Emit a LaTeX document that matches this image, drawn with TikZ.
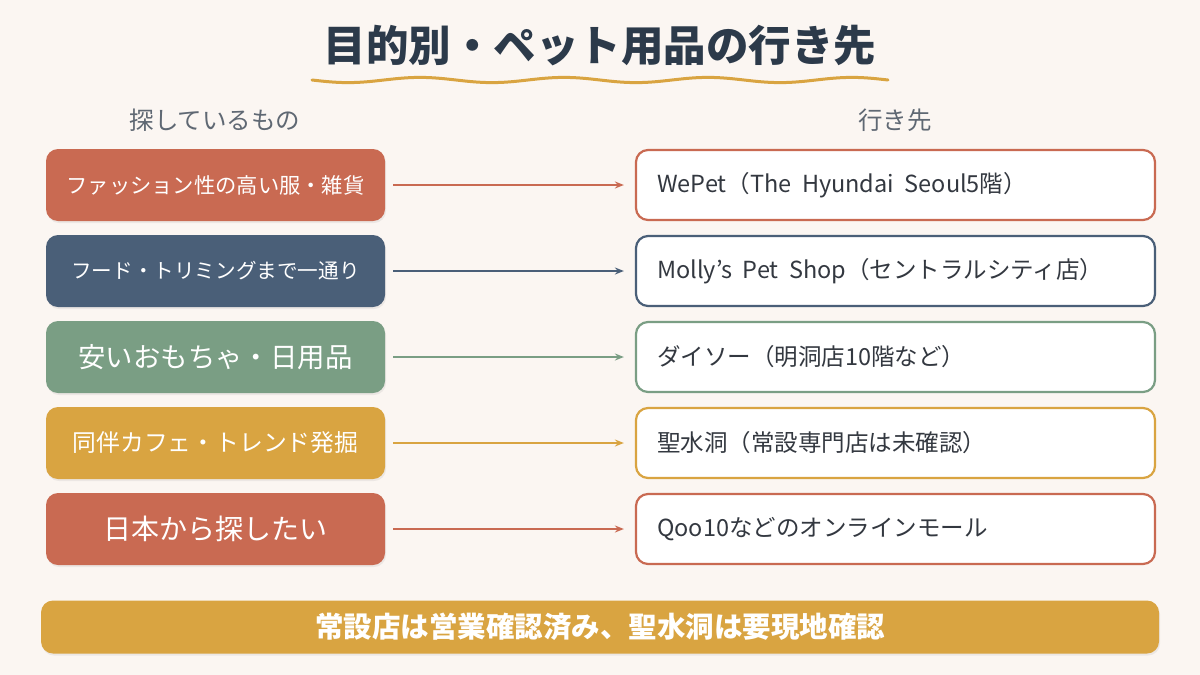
\documentclass[tikz,border=0pt]{standalone}
\usepackage{fontspec}
\setmainfont{Noto Sans CJK JP}
\usetikzlibrary{arrows.meta,shadows}
\definecolor{bg}{HTML}{FBF6F2}
\definecolor{terra}{HTML}{C96A52}
\definecolor{slate}{HTML}{4A5F78}
\definecolor{sage}{HTML}{7A9E84}
\definecolor{gold}{HTML}{D9A441}
\definecolor{ink}{HTML}{2C3A4A}
\definecolor{headgray}{HTML}{5F6873}
\definecolor{txt}{HTML}{333840}
\tikzset{
  srcbox/.style={rounded corners=12pt, minimum width=339pt, minimum height=72pt, inner sep=0pt,
    text=white, align=center, drop shadow={opacity=0.12, shadow xshift=1pt, shadow yshift=-2pt}},
  dstbox/.style={rounded corners=12pt, minimum width=519pt, minimum height=70pt, inner sep=0pt,
    fill=white, line width=2.2pt, text=txt, anchor=center},
  dsttext/.style={anchor=west, text=txt, font=\fontsize{23.5}{28}\selectfont, inner sep=0pt},
  link/.style={line width=1.6pt, -{Stealth[length=9pt,width=7pt]}},
  header/.style={text=headgray, font=\fontsize{24.5}{29}\selectfont}
}
\begin{document}
\begin{tikzpicture}[x=1pt,y=-1pt]
\fill[bg] (0,0) rectangle (1200,675);
\useasboundingbox (0,0) rectangle (1200,675);
% title
\node[text=ink, font=\fontsize{42.5}{48}\selectfont\bfseries] (title) at (600,46) {目的別・ペット用品の行き先};
\draw[gold, line width=3pt, line cap=round] plot[domain=312:888, samples=160, smooth] (\x,{80+2.6*sin((\x-312)*2.5)});
% headers
\node[header] (hl) at (215,120) {探しているもの};
\node[header] (hr) at (895,120) {行き先};
% left boxes
\node[srcbox, fill=terra, font=\fontsize{21.3}{25}\selectfont] (s1) at (215.5,185) {ファッション性の高い服・雑貨};
\node[srcbox, fill=slate, font=\fontsize{20.6}{25}\selectfont] (s2) at (215.5,271) {フード・トリミングまで一通り};
\node[srcbox, fill=sage, font=\fontsize{27.4}{32}\selectfont] (s3) at (215.5,357) {安いおもちゃ・日用品};
\node[srcbox, fill=gold, font=\fontsize{23.8}{28}\selectfont] (s4) at (215.5,443) {同伴カフェ・トレンド発掘};
\node[srcbox, fill=terra, font=\fontsize{28}{32}\selectfont] (s5) at (215.5,529) {日本から探したい};
% right boxes
\node[dstbox, draw=terra] (d1) at (895.5,185) {};
\node[dstbox, draw=slate] (d2) at (895.5,271) {};
\node[dstbox, draw=sage] (d3) at (895.5,357) {};
\node[dstbox, draw=gold] (d4) at (895.5,443) {};
\node[dstbox, draw=terra] (d5) at (895.5,529) {};
\node[dsttext] (t1) at ([xshift=22pt]d1.west) {WePet（The\ \ Hyundai\ \ Seoul5階）};
\node[dsttext] (t2) at ([xshift=22pt]d2.west) {Molly's\ \ Pet\ \ Shop（セントラルシティ店）};
\node[dsttext] (t3) at ([xshift=22pt]d3.west) {ダイソー（明洞店10階など）};
\node[dsttext] (t4) at ([xshift=22pt]d4.west) {聖水洞（常設専門店は未確認）};
\node[dsttext] (t5) at ([xshift=22pt]d5.west) {Qoo10などのオンラインモール};
% connectors
\draw[link, terra] ([xshift=8pt]s1.east) -- ([xshift=-11pt]d1.west);
\draw[link, slate] ([xshift=8pt]s2.east) -- ([xshift=-11pt]d2.west);
\draw[link, sage] ([xshift=8pt]s3.east) -- ([xshift=-11pt]d3.west);
\draw[link, gold] ([xshift=8pt]s4.east) -- ([xshift=-11pt]d4.west);
\draw[link, terra] ([xshift=8pt]s5.east) -- ([xshift=-11pt]d5.west);
% bottom bar
\node[rounded corners=12pt, fill=gold, minimum width=1118pt, minimum height=53pt, inner sep=0pt,
  text=white, font=\fontsize{28.5}{32}\selectfont\bfseries,
  drop shadow={opacity=0.12, shadow xshift=1pt, shadow yshift=-2pt}] (bar) at (600,627) {常設店は営業確認済み、聖水洞は要現地確認};
\end{tikzpicture}
\end{document}
